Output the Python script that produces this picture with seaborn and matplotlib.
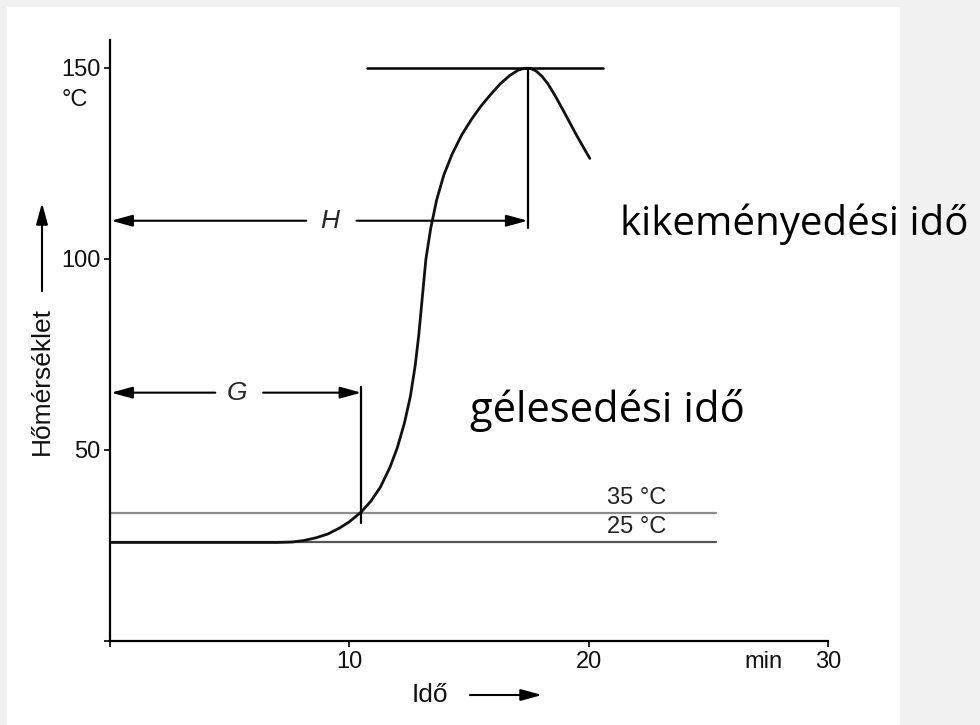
import matplotlib
matplotlib.use("Agg")
import matplotlib.pyplot as plt
import seaborn as sns
import pandas as pd
from matplotlib.patches import Rectangle, ArrowStyle
import matplotlib.transforms as mtransforms

# ---- data ----
time_min = [0, 2, 4, 6, 7, 7.6, 8.1, 8.6, 9.1, 9.6, 10.0, 10.5, 10.9, 11.3, 11.7, 12.0,
            12.3, 12.55, 12.75, 12.9, 13.05, 13.2, 13.4, 13.65, 13.95, 14.3, 14.7, 15.1,
            15.5, 15.9, 16.3, 16.7, 17.05, 17.3, 17.55, 17.8, 18.05, 18.3, 18.6, 18.9,
            19.2, 19.5, 19.8, 20.05]
temperature = [25.8, 25.8, 25.8, 25.8, 25.8, 25.9, 26.3, 27.0, 28.0, 29.6, 31.2, 33.8,
               36.6, 40.3, 45.5, 50.5, 57, 64, 72, 80, 90, 100, 108, 115.5, 122, 127.5,
               132.5, 136.5, 140, 143, 145.8, 148, 149.4, 149.9, 149.9, 149.2, 147.8,
               145.8, 142.7, 139.3, 135.8, 132.3, 129, 126.3]
ref_levels = [33.5, 25.8]
ref_labels = ["35 °C", "25 °C"]
ref_colors = ["#8c8c8c", "#555555"]
x_ticks = [0, 10, 20, 30]
x_ticklabels = ["", "10", "20", "30"]
y_ticks = [0, 50, 100, 150]
y_ticklabels = ["", "50", "100", "150"]
peak_time, peak_temp = 17.45, 150
gel_time = 10.5
H_level, G_level = 110, 65

sns.set_theme(style="white")
plt.rcParams['font.family'] = ['Liberation Sans', 'DejaVu Sans']

W, Hh = 980, 725
fig = plt.figure(figsize=(W / 100, Hh / 100), dpi=100, facecolor='#f1f1f1')
fig.patches.append(Rectangle((7 / W, 0), (900 - 7) / W, (Hh - 7) / Hh,
                             transform=fig.transFigure, facecolor='white',
                             edgecolor='none', zorder=-5))
ax = fig.add_axes([110 / W, 84 / Hh, 718 / W, 601 / Hh])
ax.patch.set_alpha(0)
ax.set_zorder(2)

df = pd.DataFrame({"Idő": time_min, "Hőmérséklet": temperature})
sns.lineplot(data=df, x="Idő", y="Hőmérséklet", sort=False, color="#111111",
             lw=2.0, ax=ax)

# reference temperature lines
for lvl, lab, c in zip(ref_levels, ref_labels, ref_colors):
    ax.plot([0, 25.3], [lvl, lvl], color=c, lw=1.6, zorder=1)
ax.text(22.0, 37.4, ref_labels[0], ha='center', va='center', fontsize=17, color='#222222')
ax.text(22.0, 29.9, ref_labels[1], ha='center', va='center', fontsize=17, color='#222222')

# peak horizontal and vertical markers
ax.plot([10.75, 20.6], [peak_temp, peak_temp], color='black', lw=1.8)
ax.plot([peak_time, peak_time], [peak_temp, H_level - 2], color='black', lw=1.6)
ax.plot([gel_time, gel_time], [G_level + 1.5, 31], color='black', lw=1.6)

astyle = ArrowStyle('-|>', head_length=0.8, head_width=0.22)
def arrow(x0, x1, y):
    ax.annotate('', xy=(x1, y), xytext=(x0, y),
                arrowprops=dict(arrowstyle=astyle, mutation_scale=16, color='black',
                                lw=1.5, shrinkA=0, shrinkB=0))

arrow(8.2, 0.05, H_level)
arrow(10.3, peak_time, H_level)
ax.text(9.2, H_level, "H", style='italic', ha='center', va='center', fontsize=19)
arrow(4.4, 0.05, G_level)
arrow(6.4, gel_time, G_level)
ax.text(5.3, G_level, "G", style='italic', ha='center', va='center', fontsize=19)

# axes styling
ax.set_xlim(0, 30)
ax.set_ylim(0, 157.3)
ax.set_xticks(x_ticks)
ax.set_xticklabels(x_ticklabels)
ax.set_yticks(y_ticks)
ax.set_yticklabels(y_ticklabels)
ax.set_xlabel("")
ax.set_ylabel("")
for s in ['top', 'right']:
    ax.spines[s].set_visible(False)
for s in ['left', 'bottom']:
    ax.spines[s].set_color('black')
    ax.spines[s].set_linewidth(1.6)
ax.tick_params(direction='out', length=4, width=1.2, color='black',
               labelsize=17, labelcolor='#111111', pad=3, bottom=True, left=True)

ax.annotate("min", xy=(27.3, 0), xycoords='data', xytext=(0, -7),
            textcoords='offset points', ha='center', va='top', fontsize=17, color='#111111')
blend = mtransforms.blended_transform_factory(ax.transAxes, ax.transData)
ax.text(-0.067, 141.6, "°C", transform=blend, ha='left', va='center', fontsize=17,
        color='#111111')

# axis titles with arrows (figure pixels)
fig.text(42 / W, (Hh - 381) / Hh, "Hőmérséklet", rotation=90, ha='center', va='center',
         fontsize=19, color='#111111')
ax.annotate('', xy=(42, Hh - 203), xytext=(42, Hh - 291), xycoords='figure pixels',
            textcoords='figure pixels',
            arrowprops=dict(arrowstyle=astyle, mutation_scale=16, color='black', lw=1.5,
                            shrinkA=0, shrinkB=0), annotation_clip=False)
fig.text(430 / W, (Hh - 695) / Hh, "Idő", ha='center', va='center', fontsize=19,
         color='#111111')
ax.annotate('', xy=(542, Hh - 695), xytext=(470, Hh - 695), xycoords='figure pixels',
            textcoords='figure pixels',
            arrowprops=dict(arrowstyle=astyle, mutation_scale=16, color='black', lw=1.5,
                            shrinkA=0, shrinkB=0), annotation_clip=False)

# annotations
fig.text(620 / W, (Hh - 224) / Hh, "kikeményedési idő", ha='left', va='center',
         fontsize=29, family=['Open Sans', 'DejaVu Sans'], color='black')
fig.text(470 / W, (Hh - 411) / Hh, "gélesedési idő", ha='left', va='center',
         fontsize=30, family=['Open Sans', 'DejaVu Sans'], color='black')

fig.savefig("out.png", dpi=100, facecolor=fig.get_facecolor())
